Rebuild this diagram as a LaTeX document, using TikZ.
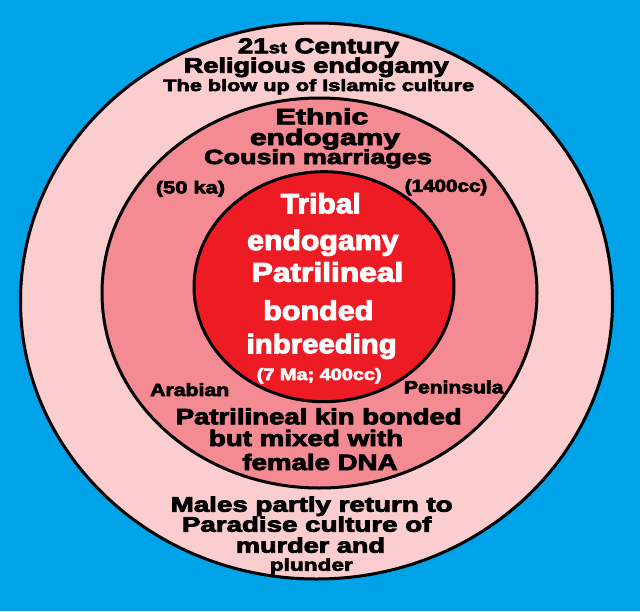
\documentclass[tikz,border=0pt]{standalone}
\usepackage{fontspec}
\usepackage{graphicx}
\setmainfont{Liberation Sans}[BoldFeatures={FakeBold=3.5}]
\definecolor{bgblue}{RGB}{0,162,232}
\definecolor{outerpink}{RGB}{252,205,207}
\definecolor{midpink}{RGB}{245,139,146}
\definecolor{innerred}{RGB}{237,28,36}
\tikzset{
  ring/.style={draw=black, line width=3pt},
  lbl/.style={anchor=base, inner sep=0pt, text=black},
  wlbl/.style={anchor=base, inner sep=0pt, text=white},
  fs/.style={font=\bfseries\fontsize{#1}{#1}\selectfont}
}
\newcommand\hs[2]{\scalebox{#1}[1]{#2}}
\begin{document}
\begin{tikzpicture}[x=1pt,y=-1pt]
\fill[bgblue] (0,0) rectangle (640,611);
\useasboundingbox (0,0) rectangle (640,611);
\draw[ring, fill=outerpink] (316.5,301) ellipse [x radius=296, y radius=278];
\draw[ring, fill=midpink] (319.5,293) ellipse [x radius=217.5, y radius=195];
\draw[ring, fill=innerred] (324,286.7) ellipse [x radius=130, y radius=115];
% outer top
\node[lbl,fs=21.6] (t1) at (318.5,53.3) {\hs{1.28}{21{\fontsize{16}{16}\selectfont st} Century}};
\node[lbl,fs=21] (t2) at (316.3,72.7) {\hs{1.29}{Religious endogamy}};
\node[lbl,fs=16.3] (t3) at (318.7,91) {\hs{1.33}{The blow up of Islamic culture}};
% middle top
\node[lbl,fs=22.3] (t4) at (322,124.3) {\hs{1.36}{Ethnic}};
\node[lbl,fs=22.3] (t5) at (325,145) {\hs{1.345}{endogamy}};
\node[lbl,fs=20.5] (t6) at (318,164) {\hs{1.315}{Cousin marriages}};
\node[lbl,fs=17.2] (t7) at (190.5,193.3) {\hs{1.27}{(50 ka)}};
\node[lbl,fs=17.2] (t8) at (446,191.7) {\hs{1.2}{(1400cc)}};
% inner
\node[wlbl,fs=28] (t9) at (320.8,213.3) {\hs{1.07}{Tribal}};
\node[wlbl,fs=28] (t10) at (322.8,250) {\hs{1.08}{endogamy}};
\node[wlbl,fs=27] (t11) at (327.5,281.7) {\hs{1.175}{Patrilineal}};
\node[wlbl,fs=27] (t12) at (318.3,320) {\hs{1.13}{bonded}};
\node[wlbl,fs=27] (t13) at (321.7,353.3) {\hs{1.087}{inbreeding}};
\node[wlbl,fs=16.3] (t14) at (319.2,380) {\hs{1.22}{(7 Ma; 400cc)}};
% middle bottom
\node[lbl,fs=17.7] (t15) at (189.7,396) {\hs{1.2}{Arabian}};
\node[lbl,fs=17.7] (t16) at (453.7,393.3) {\hs{1.19}{Peninsula}};
\node[lbl,fs=22.3] (t17) at (318.7,424.3) {\hs{1.234}{Patrilineal kin bonded}};
\node[lbl,fs=22.3] (t18) at (306,446) {\hs{1.245}{but mixed with}};
\node[lbl,fs=22.3] (t19) at (320,470) {\hs{1.24}{female DNA}};
% outer bottom
\node[lbl,fs=21] (t20) at (311.7,511.7) {\hs{1.32}{Males partly return to}};
\node[lbl,fs=21] (t21) at (306.7,531.7) {\hs{1.32}{Paradise culture of}};
\node[lbl,fs=21] (t22) at (310.5,552.7) {\hs{1.29}{murder and}};
\node[lbl,fs=17] (t23) at (311.3,570.7) {\hs{1.33}{plunder}};
\end{tikzpicture}
\end{document}
